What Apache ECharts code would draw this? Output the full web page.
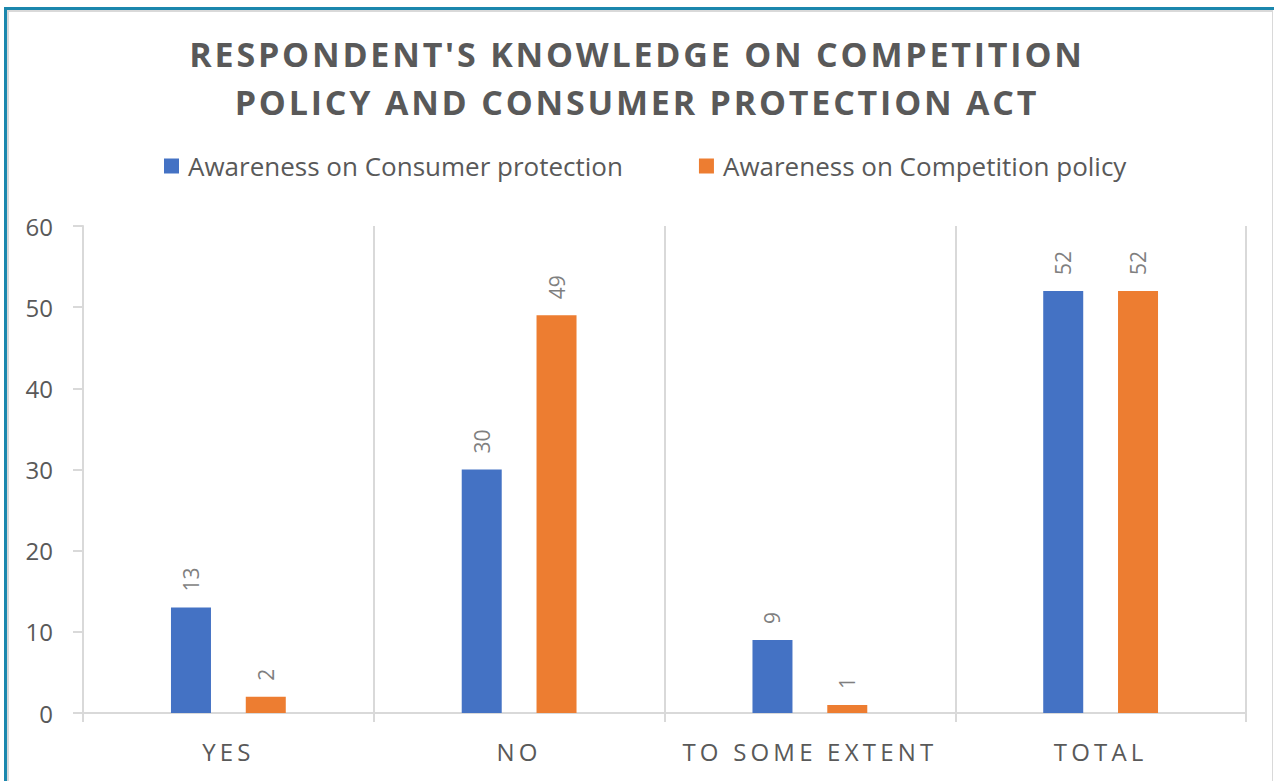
<!DOCTYPE html>
<html>
<head>
<meta charset="utf-8">
<script src="https://cdn.jsdelivr.net/npm/echarts@6/dist/echarts.min.js"></script>
<style>
  html, body { margin: 0; padding: 0; background: #ffffff; }
  #frame { position: absolute; left: 4px; top: 7px; width: 1280px; height: 800px;
           border-top: 3px solid #1b87ad; border-left: 3px solid #1b87ad; box-sizing: border-box; }
  #inner { position: absolute; left: 0; top: 0; width: 1266px; height: 790px;
           border-top: 2px solid #d9d9d9; border-left: 2px solid #d9d9d9; border-right: 1px solid #d9d9d9; box-sizing: border-box; }
  #chart { position: absolute; left: 0; top: 0; width: 1274px; height: 781px; }
</style>
</head>
<body>
<div id="frame"><div id="inner"></div></div>
<div id="chart"></div>
<script>
// Survey responses by awareness type
const categories = ['YES', 'NO', 'TO SOME EXTENT', 'TOTAL'];
const consumerProtection = [13, 30, 9, 52];
const competitionPolicy = [2, 49, 1, 52];
const seriesNames = ['Awareness on Consumer protection', 'Awareness on Competition policy'];
const titleLines = ["RESPONDENT'S KNOWLEDGE ON COMPETITION", 'POLICY AND CONSUMER PROTECTION ACT'];

const textColor = '#595959';
const lineColor = '#d9d9d9';
const font = '"Open Sans", "Liberation Sans", sans-serif';

const chart = echarts.init(document.getElementById('chart'), null, { renderer: 'svg' });

const label = {
  show: true,
  position: 'top',
  rotate: 90,
  align: 'left',
  verticalAlign: 'middle',
  distance: 16,
  color: '#7f7f7f',
  fontSize: 21,
  fontFamily: font
};

chart.setOption({
  backgroundColor: 'transparent',
  animation: false,
  title: {
    text: titleLines.join('\n'),
    left: 'center',
    top: 25,
    textStyle: { color: textColor, fontSize: 34, fontWeight: 'bold', fontFamily: font, lineHeight: 48 }
  },
  legend: {
    top: 148,
    left: 159,
    itemWidth: 15,
    itemHeight: 15,
    itemGap: 76,
    icon: 'rect',
    textStyle: { color: textColor, fontSize: 26, fontFamily: font, padding: [0, 0, 0, 4] },
    data: seriesNames
  },
  grid: { left: 83, right: 28, top: 226, bottom: 68 },
  xAxis: {
    type: 'category',
    data: categories,
    axisLine: { lineStyle: { color: lineColor, width: 2 } },
    axisTick: { show: true, length: 9, lineStyle: { color: lineColor, width: 2 } },
    splitLine: { show: true, lineStyle: { color: lineColor, width: 2 } },
    axisLabel: { color: textColor, fontSize: 24, fontFamily: font, margin: 26 }
  },
  yAxis: {
    type: 'value',
    min: 0,
    max: 60,
    interval: 10,
    axisLine: { show: true, lineStyle: { color: lineColor, width: 2 } },
    axisTick: { show: true, length: 10, lineStyle: { color: lineColor, width: 2 } },
    splitLine: { show: false },
    axisLabel: { color: textColor, fontSize: 24, fontFamily: font, margin: 30 }
  },
  series: [
    { name: seriesNames[0], type: 'bar', data: consumerProtection, barWidth: 40, barGap: '87%',
      itemStyle: { color: '#4472c4' }, label: label },
    { name: seriesNames[1], type: 'bar', data: competitionPolicy, barWidth: 40,
      itemStyle: { color: '#ed7d31' }, label: label }
  ]
});

// Spread the letters of the title and the category names
function spreadText() {
  const spaced = { };
  titleLines.forEach(t => spaced[t] = '2.8px');
  categories.forEach(c => spaced[c] = '4.2px');
  document.querySelectorAll('#chart text').forEach(el => {
    const s = el.textContent;
    if (spaced[s]) el.style.letterSpacing = spaced[s];
  });
}
chart.on('finished', spreadText);
spreadText();
</script>
</body>
</html>
